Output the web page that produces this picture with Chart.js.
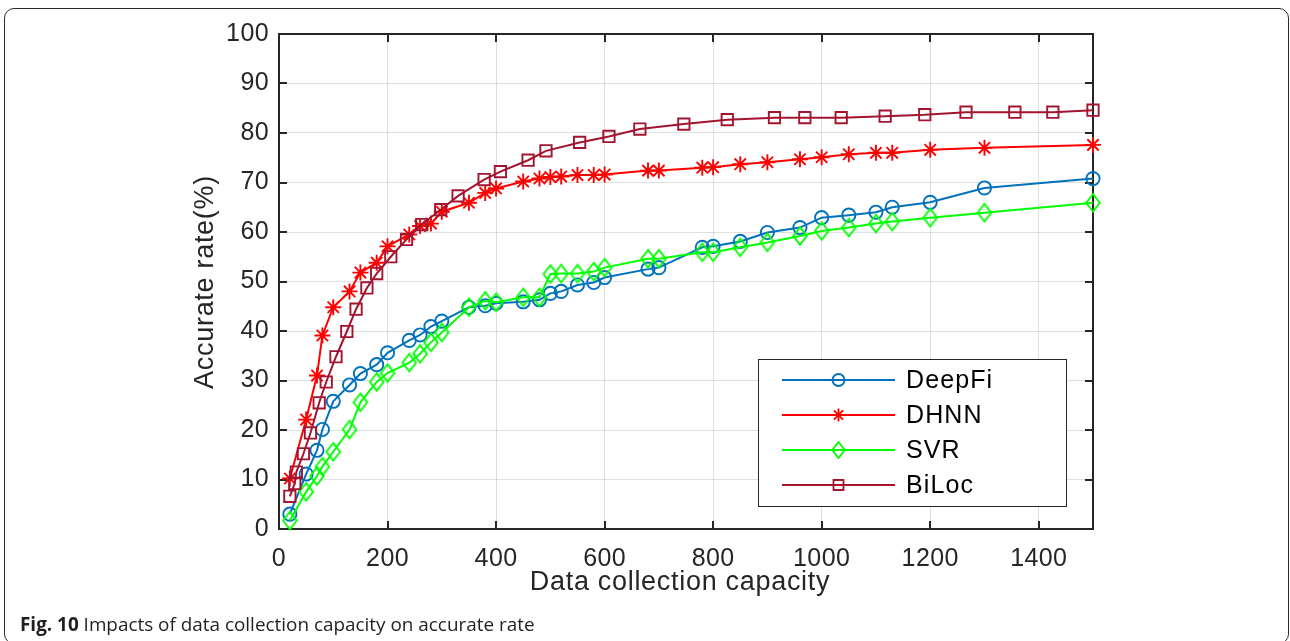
<!DOCTYPE html>
<html><head><meta charset="utf-8">
<script src="https://cdn.jsdelivr.net/npm/chart.js@4/dist/chart.umd.min.js"></script>
<style>
html,body{margin:0;padding:0;background:#fff;width:1290px;height:641px;overflow:hidden;}
#frame{position:absolute;left:4px;top:8px;width:1285px;height:636px;border:1.5px solid #2a2a2a;border-radius:10px;box-sizing:border-box;}
#wrap{position:absolute;left:0;top:0;width:1290px;height:641px;}
#cap{position:absolute;left:20px;top:615px;font-family:'Open Sans';font-size:18.9px;line-height:18px;color:#231f20;white-space:nowrap;}
#cap b{font-weight:700;}
</style></head><body>
<div id="frame"></div>
<div id="wrap"><canvas id="c" width="1290" height="641"></canvas></div>
<div id="cap"><b>Fig. 10</b> Impacts of data collection capacity on accurate rate</div>
<script>
// ---- data ----
const seriesNames = ['DeepFi', 'DHNN', 'SVR', 'BiLoc'];
const xShared = [20,50,70,80,100,130,150,180,200,240,260,280,300,350,380,400,450,480,500,520,550,580,600,680,700,780,800,850,900,960,1000,1050,1100,1130,1200,1300,1500];
const deepFi = [3.0,11.1,15.9,20.1,25.8,29.1,31.4,33.2,35.6,38.1,39.2,40.9,42.0,44.8,45.1,45.6,45.9,46.3,47.6,48.0,49.3,49.8,50.8,52.5,52.8,56.9,57.1,58.1,59.9,60.9,62.9,63.4,64.0,65.0,66.0,68.9,70.8];
const dhnn = [10.2,22.1,31.0,39.1,44.8,48.0,51.8,53.8,57.1,59.5,61.2,61.7,64.1,65.9,67.9,68.8,70.2,70.8,71.1,71.2,71.5,71.5,71.6,72.4,72.4,73.0,73.1,73.7,74.1,74.7,75.1,75.7,76.0,76.0,76.6,77.0,77.6];
const svr = [1.7,7.5,10.7,12.6,15.6,20.1,25.6,29.7,31.5,33.6,35.4,37.7,39.7,44.8,46.1,45.8,46.8,46.8,51.5,51.6,51.6,52.0,52.8,54.6,54.6,55.9,55.9,56.9,57.9,59.2,60.2,60.9,61.7,62.1,62.9,63.9,65.9];
const biLocX = [20,29,32,45,58,74,87,105,125,142,162,180,206,235,263,298,330,378,408,459,492,554,608,665,746,826,913,969,1036,1117,1190,1266,1356,1426,1500];
const biLoc = [6.6,9.2,11.5,15.2,19.4,25.5,29.7,34.8,39.9,44.4,48.7,51.6,55.0,58.5,61.5,64.5,67.3,70.6,72.2,74.5,76.4,78.1,79.3,80.8,81.8,82.7,83.1,83.1,83.1,83.4,83.7,84.2,84.2,84.2,84.6];
const xTicks = [0,200,400,600,800,1000,1200,1400];
const yTicks = [0,10,20,30,40,50,60,70,80,90,100];
const xTitle = 'Data collection capacity';
const yTitle = 'Accurate rate(%)';

// ---- styling ----
const colors = ['#0072BD', '#FF0000', '#00FF00', '#A2142F'];
const PLOT = {left: 279, right: 1093, top: 34, bottom: 529};
const FONT = "'Liberation Sans', Arial, sans-serif";
const AX = '#262626';

function diamondImg(color, hw, hh, lw) {
  const c = document.createElement('canvas');
  c.width = Math.ceil(hw * 2 + lw * 2 + 2);
  c.height = Math.ceil(hh * 2 + lw * 2 + 2);
  const g = c.getContext('2d');
  const cx = c.width / 2, cy = c.height / 2;
  g.strokeStyle = color; g.lineWidth = lw;
  g.beginPath();
  g.moveTo(cx, cy - hh); g.lineTo(cx + hw, cy); g.lineTo(cx, cy + hh); g.lineTo(cx - hw, cy); g.closePath();
  g.stroke();
  return c;
}
const diamond = diamondImg(colors[2], 6.8, 8.8, 1.9);

function pts(xs, ys) { return xs.map((x, i) => ({x: x, y: ys[i]})); }

const datasets = [
  {label: seriesNames[0], data: pts(xShared, deepFi), borderColor: colors[0], pointStyle: 'circle', pointRadius: 6.6, order: 3},
  {label: seriesNames[1], data: pts(xShared, dhnn), borderColor: colors[1], pointStyle: 'star', pointRadius: 8, order: 2},
  {label: seriesNames[2], data: pts(xShared, svr), borderColor: colors[2], pointStyle: diamond, pointRadius: 7, order: 1},
  {label: seriesNames[3], data: pts(biLocX, biLoc), borderColor: colors[3], pointStyle: 'rect', pointRadius: 8, order: 0}
].map(d => Object.assign({
  borderWidth: 2, backgroundColor: 'transparent', pointBackgroundColor: 'rgba(0,0,0,0)',
  pointBorderColor: d.borderColor, pointBorderWidth: 1.9, tension: 0, clip: false, fill: false
}, d));

function drawMarker(ctx, i, x, y) {
  ctx.save();
  ctx.strokeStyle = colors[i]; ctx.lineWidth = 1.8;
  ctx.beginPath();
  if (i === 0) { ctx.arc(x, y, 6, 0, Math.PI * 2); }
  else if (i === 1) {
    const r = 6.5;
    for (let k = 0; k < 4; k++) {
      const a = k * Math.PI / 4;
      ctx.moveTo(x - Math.sin(a) * r, y - Math.cos(a) * r);
      ctx.lineTo(x + Math.sin(a) * r, y + Math.cos(a) * r);
    }
  }
  else if (i === 2) { ctx.moveTo(x, y - 8); ctx.lineTo(x + 6.3, y); ctx.lineTo(x, y + 8); ctx.lineTo(x - 6.3, y); ctx.closePath(); }
  else { ctx.rect(x - 5, y - 5, 10, 10); }
  ctx.stroke();
  ctx.restore();
}

const framePlugin = {
  id: 'framePlugin',
  beforeDraw(chart) { chart.ctx.letterSpacing = '0.4px'; },
  beforeDatasetsDraw(chart) {
    const ctx = chart.ctx, a = chart.chartArea;
    const xs = chart.scales.x, ys = chart.scales.y;
    ctx.save();
    ctx.strokeStyle = AX; ctx.lineWidth = 2;
    ctx.beginPath();
    ctx.moveTo(a.left - 1, a.top); ctx.lineTo(a.right, a.top); ctx.lineTo(a.right, a.bottom + 1);
    ctx.stroke();
    ctx.beginPath();
    const tl = 8;
    xTicks.forEach(v => {
      const p = Math.round(xs.getPixelForValue(v));
      ctx.moveTo(p, a.bottom); ctx.lineTo(p, a.bottom - tl);
      ctx.moveTo(p, a.top); ctx.lineTo(p, a.top + tl);
    });
    yTicks.forEach(v => {
      const p = Math.round(ys.getPixelForValue(v));
      ctx.moveTo(a.left, p); ctx.lineTo(a.left + tl, p);
      ctx.moveTo(a.right, p); ctx.lineTo(a.right - tl, p);
    });
    ctx.stroke();
    ctx.restore();
  },
  afterDraw(chart) {
    const ctx = chart.ctx;
    ctx.save();
    // axis titles
    ctx.fillStyle = AX;
    ctx.letterSpacing = '0.7px';
    ctx.font = '27px ' + FONT;
    ctx.textAlign = 'center'; ctx.textBaseline = 'alphabetic';
    ctx.fillText(xTitle, 680, 590);
    ctx.save();
    ctx.translate(213, 282);
    ctx.rotate(-Math.PI / 2);
    ctx.fillText(yTitle, 0, 0);
    ctx.restore();
    // legend
    const bx = 758.5, by = 359.5, bw = 308, bh = 147;
    ctx.fillStyle = '#ffffff';
    ctx.fillRect(bx, by, bw, bh);
    ctx.strokeStyle = AX; ctx.lineWidth = 1;
    ctx.strokeRect(bx, by, bw, bh);
    const rows = [380, 415, 450, 485];
    ctx.font = '25px ' + FONT;
    ctx.letterSpacing = '1.1px';
    ctx.textAlign = 'left'; ctx.textBaseline = 'middle';
    seriesNames.forEach((n, i) => {
      const y = rows[i];
      ctx.strokeStyle = colors[i]; ctx.lineWidth = 2;
      ctx.beginPath(); ctx.moveTo(782, y); ctx.lineTo(895, y); ctx.stroke();
      drawMarker(ctx, i, 838.5, y);
      ctx.fillStyle = '#000';
      ctx.fillText(n, 906, y + 1);
    });
    ctx.restore();
  }
};

new Chart(document.getElementById('c'), {
  type: 'line',
  data: {datasets: datasets},
  options: {
    responsive: false, animation: false, devicePixelRatio: 1,
    layout: {padding: {left: 0, right: 1290 - PLOT.right, top: PLOT.top, bottom: 0}},
    plugins: {legend: {display: false}, tooltip: {enabled: false}},
    scales: {
      x: {
        type: 'linear', min: 0, max: 1500,
        afterFit(s) { s.height = 641 - PLOT.bottom; },
        afterBuildTicks(s) { s.ticks = xTicks.map(v => ({value: v})); },
        ticks: {includeBounds: false, padding: 15, maxRotation: 0, autoSkip: false, color: AX, font: {family: FONT, size: 25}, callback: v => String(v)},
        grid: {color: 'rgba(38,38,38,0.15)', lineWidth: 1, drawTicks: false},
        border: {display: true, color: AX, width: 2}
      },
      y: {
        type: 'linear', min: 0, max: 100,
        afterFit(s) { s.width = PLOT.left; },
        afterBuildTicks(s) { s.ticks = yTicks.map(v => ({value: v})); },
        ticks: {includeBounds: false, padding: 10, autoSkip: false, color: AX, font: {family: FONT, size: 25}, callback: v => String(v)},
        grid: {color: 'rgba(38,38,38,0.15)', lineWidth: 1, drawTicks: false},
        border: {display: true, color: AX, width: 2}
      }
    }
  },
  plugins: [framePlugin]
});
</script>
</body></html>
